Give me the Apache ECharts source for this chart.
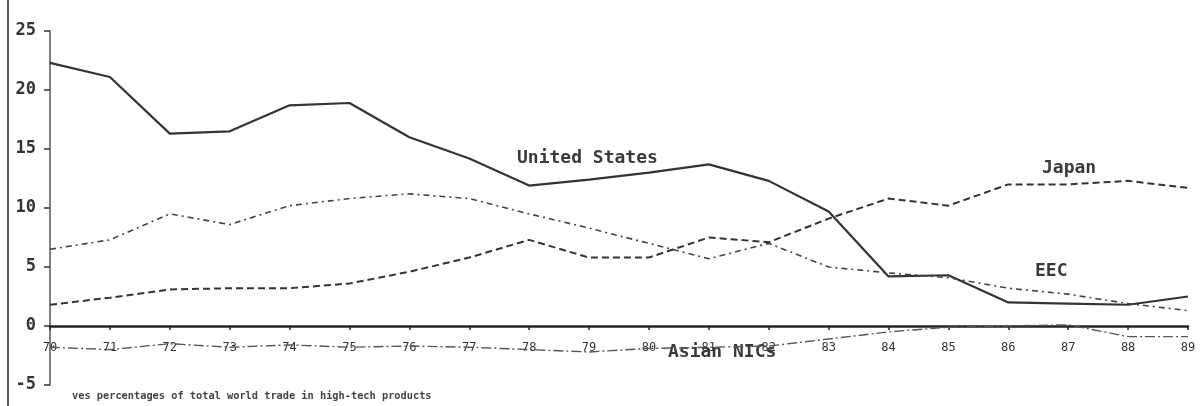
<!DOCTYPE html>
<html>
<head>
<meta charset="utf-8">
<script src="https://cdn.jsdelivr.net/npm/echarts@6/dist/echarts.min.js"></script>
<style>
html,body{margin:0;padding:0;background:#fff;}
#c{width:1201px;height:406px;}
</style>
</head>
<body>
<div id="c"></div>
<script>
var years = ['70','71','72','73','74','75','76','77','78','79','80','81','82','83','84','85','86','87','88','89'];
var unitedStates = [22.3,21.1,16.3,16.5,18.7,18.9,16.0,14.2,11.9,12.4,13.0,13.7,12.3,9.7,4.2,4.3,2.0,1.9,1.8,2.5];
var japan = [1.8,2.4,3.1,3.2,3.2,3.6,4.6,5.8,7.3,5.8,5.8,7.5,7.1,9.1,10.8,10.2,12.0,12.0,12.3,11.7];
var eec = [6.5,7.3,9.5,8.6,10.2,10.8,11.2,10.8,9.5,8.3,7.0,5.7,7.0,5.0,4.5,4.1,3.2,2.7,1.9,1.3];
var asianNICs = [-1.8,-2.0,-1.5,-1.8,-1.6,-1.8,-1.7,-1.8,-2.0,-2.2,-1.9,-1.8,-1.7,-1.1,-0.5,-0.1,0.0,0.1,-0.9,-0.9];
var yMin = -5, yMax = 25, yStep = 5;
var footnote = 'ves percentages of total world trade in high-tech products';

var ink = '#333';
var mono = 'DejaVu Sans Mono';
var gridTop = 31, gridBottom = 21, H = 406;
var plotH = H - gridTop - gridBottom;
// shift the x axis up from the grid bottom to the zero value
var zeroOffset = -plotH * (0 - yMin) / (yMax - yMin);

var chart = echarts.init(document.getElementById('c'));
chart.setOption({
  backgroundColor: '#fff',
  animation: false,
  grid: {left: 50, right: 13, top: gridTop, bottom: gridBottom, containLabel: false, outerBoundsMode: 'none'},
  xAxis: {
    type: 'category',
    data: years,
    boundaryGap: false,
    position: 'bottom',
    offset: zeroOffset,
    axisLine: {onZero: false, lineStyle: {color: '#222', width: 2.5}},
    axisTick: {show: true, length: 4, inside: false, lineStyle: {color: '#222', width: 1.5}},
    axisLabel: {color: '#333', fontFamily: mono, fontSize: 12, margin: 16},
    splitLine: {show: false}
  },
  yAxis: {
    type: 'value',
    min: yMin, max: yMax, interval: yStep,
    axisLine: {show: true, lineStyle: {color: '#555', width: 1.5}},
    axisTick: {show: true, length: 6, lineStyle: {color: '#333', width: 1.5}},
    axisLabel: {color: '#333', fontFamily: mono, fontWeight: 'bold', fontSize: 17, margin: 14},
    splitLine: {show: false}
  },
  series: [
    {name: 'United States', type: 'line', data: unitedStates, symbol: 'none',
     lineStyle: {color: ink, width: 2.2, type: 'solid'}},
    {name: 'Japan', type: 'line', data: japan, symbol: 'none',
     lineStyle: {color: ink, width: 2, type: [7, 4]}},
    {name: 'EEC', type: 'line', data: eec, symbol: 'none',
     lineStyle: {color: '#444', width: 1.6, type: [6, 4, 2, 4]}},
    {name: 'Asian NICs', type: 'line', data: asianNICs, symbol: 'none',
     lineStyle: {color: '#555', width: 1.4, type: [10, 3, 2, 3]}}
  ],
  graphic: [
    {type: 'line', shape: {x1: 8, y1: 0, x2: 8, y2: 406}, style: {stroke: '#555', lineWidth: 2}},
    {type: 'text', left: 517, top: 149, style: {text: 'United States', font: 'bold 18px "DejaVu Sans Mono"', fill: '#3a3a3a'}},
    {type: 'text', left: 1042, top: 159, style: {text: 'Japan', font: 'bold 18px "DejaVu Sans Mono"', fill: '#3a3a3a'}},
    {type: 'text', left: 1035, top: 262, style: {text: 'EEC', font: 'bold 18px "DejaVu Sans Mono"', fill: '#3a3a3a'}},
    {type: 'text', left: 668, top: 343, style: {text: 'Asian NICs', font: 'bold 18px "DejaVu Sans Mono"', fill: '#3a3a3a'}},
    {type: 'text', left: 72, top: 391, style: {text: footnote, font: 'bold 10.3px "DejaVu Sans Mono"', fill: '#444'}}
  ]
});
</script>
</body>
</html>
